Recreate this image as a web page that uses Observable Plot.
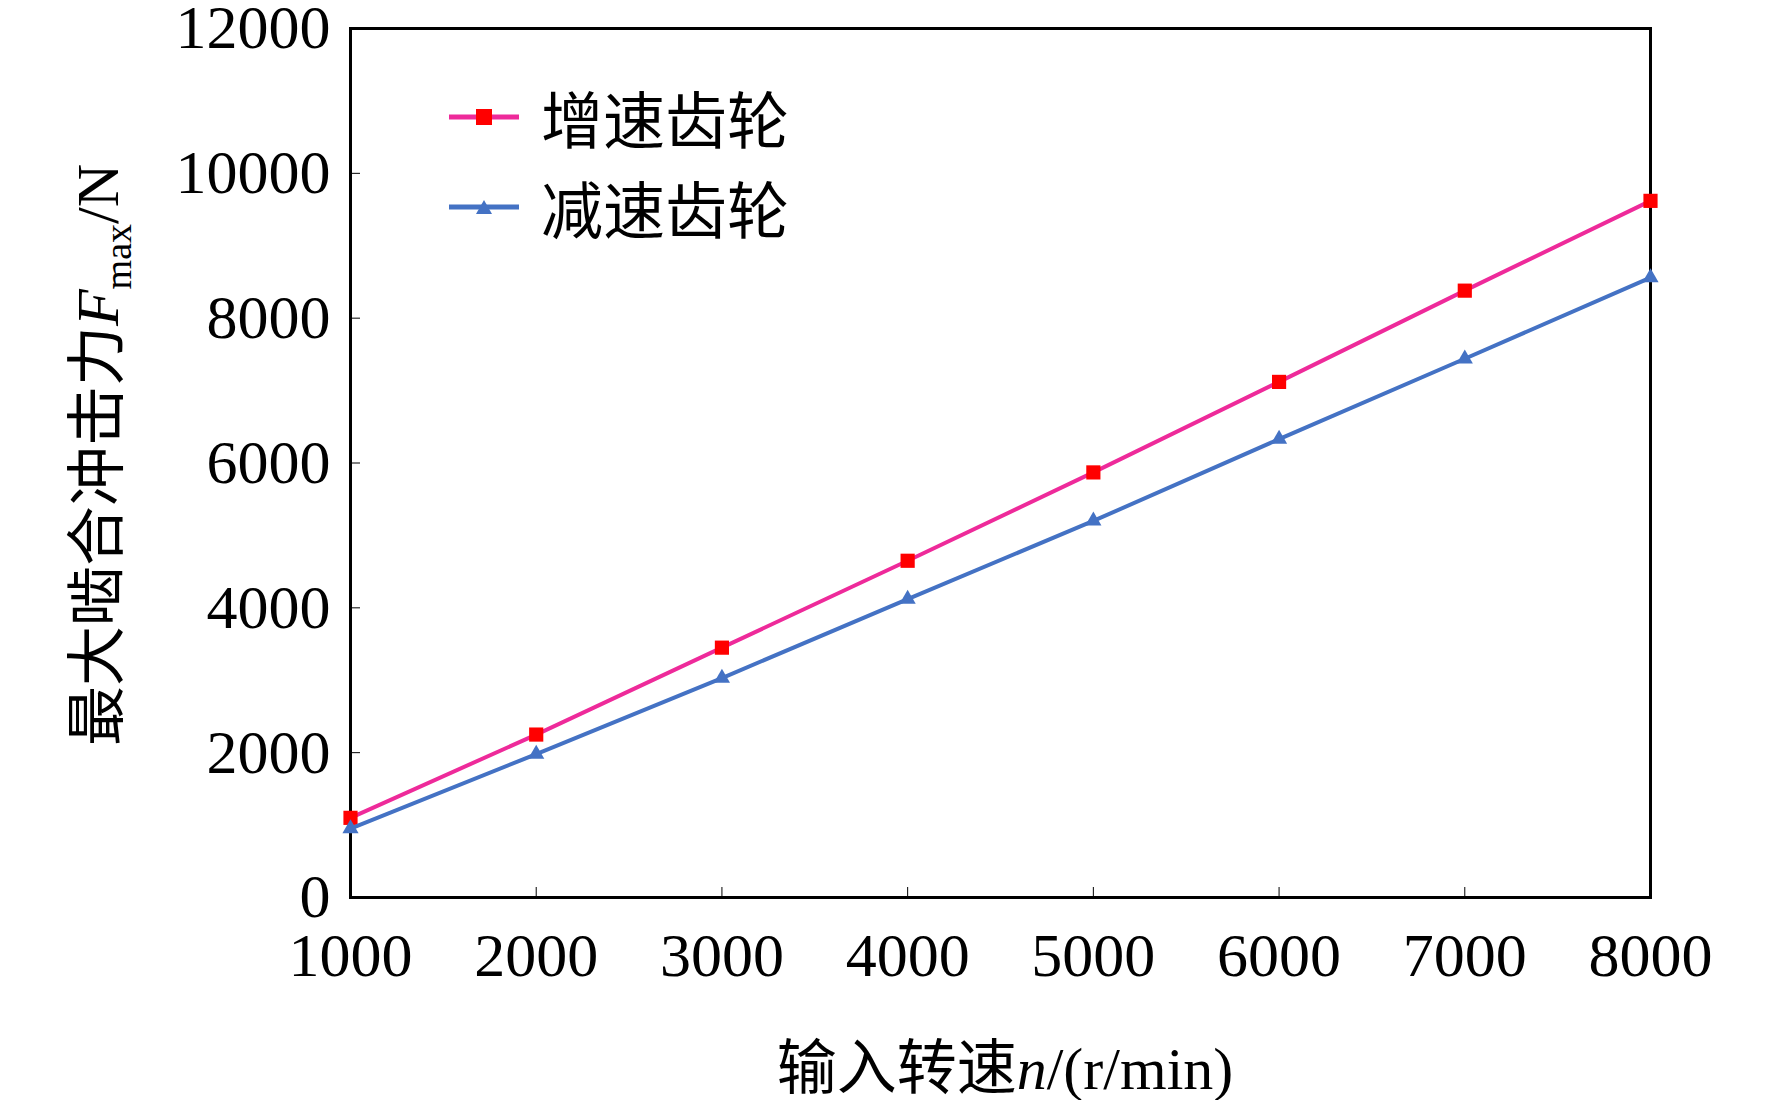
<!DOCTYPE html>
<html><head><meta charset="utf-8">
<script src="https://cdn.jsdelivr.net/npm/d3@7"></script>
<script src="https://cdn.jsdelivr.net/npm/@observablehq/plot@0.6"></script>
<style>
body{margin:0;background:#fff;}
#wrap{position:relative;width:1772px;height:1100px;font-family:"Liberation Serif","Noto Sans CJK SC",serif;}
#ylab{position:absolute;left:94px;top:455px;transform:translate(-50%,-50%) rotate(-90deg);white-space:nowrap;font-size:60px;}
#xlab{position:absolute;left:1005px;top:1062px;transform:translate(-50%,-50%);white-space:nowrap;font-size:60px;}
#legend{position:absolute;left:449px;top:72px;font-size:62px;}
.li{display:flex;align-items:center;height:90px;}
.li svg{margin-right:22px;}
</style></head><body>
<div id="wrap"></div>
<script>
const speeds=[1000,2000,3000,4000,5000,6000,7000,8000];
const upGear=[1100,2250,3450,4650,5870,7120,8380,9620];
const downGear=[950,1980,3030,4120,5200,6330,7440,8560];
const seriesNames=["增速齿轮","减速齿轮"];
const colors=["#ee2a9a","#4472c4"];
const xTicks=[1000,2000,3000,4000,5000,6000,7000,8000];
const yTicks=[0,2000,4000,6000,8000,10000,12000];

const up=speeds.map((s,i)=>({x:s,y:upGear[i]}));
const down=speeds.map((s,i)=>({x:s,y:downGear[i]}));
const chart=Plot.plot({
  width:1772,height:1100,
  marginLeft:350,marginRight:122,marginTop:28,marginBottom:203,
  style:{fontFamily:"Liberation Serif",fontSize:"62px",color:"#000",background:"#fff",overflow:"visible"},
  x:{domain:[1000,8000],ticks:xTicks,label:null,tickFormat:d=>String(d)},
  y:{domain:[0,12000],ticks:yTicks,label:null,tickFormat:d=>String(d)},
  marks:[
    Plot.axisX({ticks:xTicks,tickSize:-10,tickPadding:44,tickFormat:d=>String(d),fontSize:62,label:null}),
    Plot.axisY({ticks:yTicks,tickSize:-10,tickPadding:30,tickFormat:d=>String(d),fontSize:62,label:null}),
    Plot.frame({stroke:"#000",strokeWidth:3}),
    Plot.line(up,{x:"x",y:"y",stroke:colors[0],strokeWidth:4}),
    Plot.dot(up,{x:"x",y:"y",symbol:"square",fill:"#ff0000",r:8}),
    Plot.line(down,{x:"x",y:"y",stroke:colors[1],strokeWidth:4}),
    Plot.dot(down,{x:"x",y:"y",symbol:"triangle",fill:colors[1],r:6})
  ]
});
const wrap=document.getElementById("wrap");
wrap.appendChild(chart);
chart.style.position="absolute";chart.style.left="0";chart.style.top="0";
const yl=document.createElement("div");yl.id="ylab";
yl.innerHTML='最大啮合冲击力<i>F</i><sub style="font-size:38px">max</sub>/N';
wrap.appendChild(yl);
const xl=document.createElement("div");xl.id="xlab";
xl.innerHTML='输入转速<i>n</i>/(r/min)';
wrap.appendChild(xl);
const lg=document.createElement("div");lg.id="legend";
lg.innerHTML=seriesNames.map((n,i)=>`<div class="li"><svg width="70" height="22"><line x1="0" y1="11" x2="70" y2="11" stroke="${colors[i]}" stroke-width="5"/>${i==0?'<rect x="27" y="3" width="16" height="16" fill="#ff0000"/>':'<polygon points="35,4 43,18 27,18" fill="'+colors[1]+'"/>'}</svg><span>${n}</span></div>`).join("");
wrap.appendChild(lg);
</script></body></html>
